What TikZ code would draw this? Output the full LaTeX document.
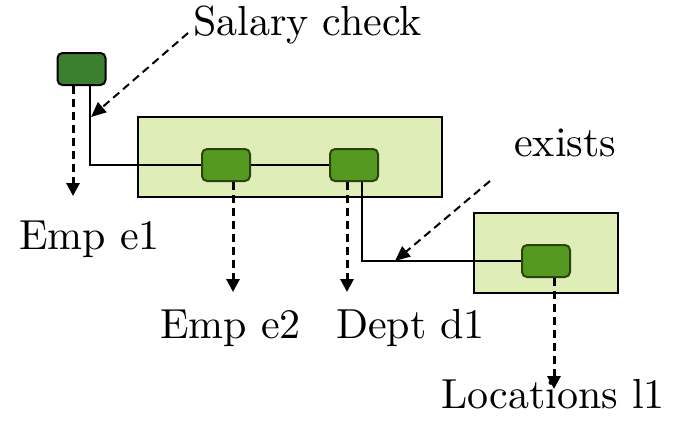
\documentclass[tikz,border=0pt]{standalone}
\usepackage{fontspec}
\setmainfont{lmroman10-regular.otf}
\usetikzlibrary{arrows.meta}
\definecolor{paleg}{HTML}{DFEEB6}
\definecolor{midg}{HTML}{559A20}
\definecolor{darkg}{HTML}{3C7F2E}
\definecolor{edgeg}{HTML}{2E4210}
\begin{document}
\begin{tikzpicture}[x=1pt,y=-1pt,
  bigbox/.style={draw=black,line width=2.5pt,fill=paleg,minimum width=#1,minimum height=80pt,inner sep=0pt},
  smallbox/.style={draw=edgeg,line width=2pt,fill=midg,rounded corners=5pt,minimum width=48pt,minimum height=32pt,inner sep=0pt},
  topbox/.style={smallbox,fill=darkg,draw=black},
  link/.style={line width=2pt},
  drop/.style={line width=3pt,dash pattern=on 8pt off 5pt,-{Triangle[width=13pt,length=13pt]}},
  note/.style={line width=2pt,dash pattern=on 8pt off 5pt,-{Triangle[width=13pt,length=15pt]}},
  lbl/.style={inner sep=0pt,anchor=base west,font=\fontsize{42}{46}\selectfont}]
\useasboundingbox (0,0) rectangle (676,423);
% boxes
\node[bigbox=304pt] (b1) at (290,157) {};
\node[bigbox=144pt] (b2) at (546,253) {};
\node[topbox] (sal) at (81.5,69) {};
\node[smallbox] (e2) at (226,165) {};
\node[smallbox] (d1) at (354,165) {};
\node[smallbox] (l1) at (546,261) {};
% solid links
\coordinate (c1) at (90,165);
\coordinate (c2) at (362,261);
\draw[link] ([xshift=8.5]sal.south) -- (c1) -- (e2.west);
\draw[link] (e2.east) -- (d1.west);
\draw[link] ([xshift=8]d1.south) -- (c2) -- (l1.west);
% result arrows
\coordinate (t1) at (73,196);
\coordinate (t2) at (233,292);
\coordinate (t3) at (347,292);
\coordinate (t4) at (554,389);
\draw[drop] ([xshift=-8.5]sal.south) -- (t1);
\draw[drop] ([xshift=7]e2.south) -- (t2);
\draw[drop] ([xshift=-7]d1.south) -- (t3);
\draw[drop] ([xshift=8]l1.south) -- (t4);
% labels
\node[lbl] (tsal) at (193,35) {Salary check};
\node[lbl] (tex) at (514,156) {exists};
\node[lbl] (te1) at (19,249) {Emp e1};
\node[lbl] (te2) at (160,338) {Emp e2};
\node[lbl] (td1) at (336,338) {Dept d1};
\node[lbl] (tl1) at (441,408) {Locations l1};
% annotation arrows
\coordinate (s0) at (188,33);
\coordinate (s1) at (91,117);
\coordinate (x0) at (490,181);
\coordinate (x1) at (395,261);
\draw[note] (s0) -- (s1);
\draw[note] (x0) -- (x1);
\end{tikzpicture}
\end{document}
